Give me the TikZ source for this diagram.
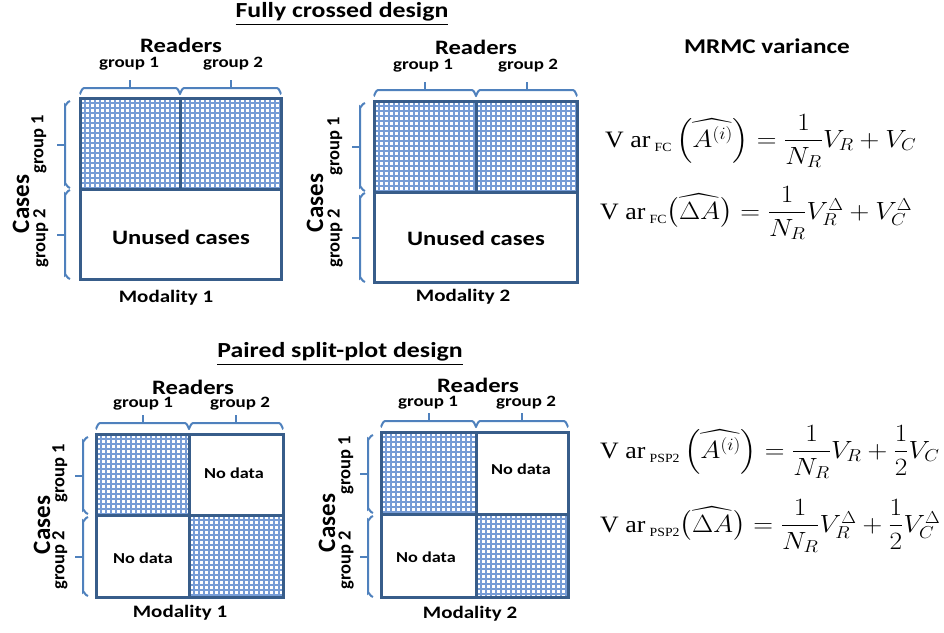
\documentclass[tikz,border=0pt]{standalone}
\usepackage{amsmath}
\usepackage{graphicx}
\usepackage{fontspec}
\setmainfont{Carlito}
\newfontfamily\timesf{Liberation Serif}
\usetikzlibrary{fit}

\definecolor{boxedge}{RGB}{56,93,138}
\definecolor{bracecol}{RGB}{79,129,189}
\definecolor{meshcol}{RGB}{118,156,214}

\newcommand{\fsz}[1]{\fontsize{#1}{#1}\selectfont}
% horizontal text is set a little wider than its natural shape
\newcommand{\wide}[1]{\scalebox{1.2}[1]{#1}}
\newcommand{\mwide}[1]{\scalebox{1.1}[1]{#1}}
% "Var" operator with a small subscript, set in a Times-like face
\newcommand{\varop}[1]{\text{\timesf V ar\,\raisebox{-0.45ex}{\fsz{12.5}#1}}}

\tikzset{
  cell/.style={rectangle, inner sep=0pt, outer sep=0pt},
  mesh/.style={path picture={
      \foreach \k in {0,5,...,215} {
        \draw[meshcol, line width=1.15pt]
          ([xshift=\k pt]path picture bounding box.north west) --
          ([xshift=\k pt]path picture bounding box.south west);
        \draw[meshcol, line width=1.15pt]
          ([yshift=-\k pt]path picture bounding box.north west) --
          ([yshift=-\k pt]path picture bounding box.north east);
      }}},
  edge/.style={draw=boxedge, line width=3pt},
  bracepen/.style={draw=bracecol, line width=2pt},
  title/.style={font=\bfseries\fsz{21.5}, inner sep=0pt},
  readers/.style={font=\bfseries\fsz{20.5}, inner sep=0pt},
  grp/.style={font=\bfseries\fsz{15.8}, inner sep=0pt},
  vgrp/.style={font=\bfseries\fsz{18.5}, inner sep=0pt, rotate=90},
  cases/.style={font=\bfseries\fsz{25}, inner sep=0pt, rotate=90},
  inner/.style={font=\bfseries\fsz{20.5}, inner sep=0pt},
  nodata/.style={font=\bfseries\fsz{15.2}, inner sep=0pt},
  modal/.style={font=\bfseries\fsz{17.5}, inner sep=0pt},
  eqn/.style={font=\fsz{23.5}, inner sep=0pt, anchor=west},
}

% horizontal brace over a column: x1, x2, y of the bar
\newcommand{\topbrace}[3]{%
  \draw[bracepen] (#1,#3+5) to[out=-90,in=180] (#1+4,#3) -- (#2-4,#3)
        to[out=0,in=-90] (#2,#3+5);
  \draw[bracepen] ({(#1+#2)/2},#3) -- ({(#1+#2)/2},#3-8);}
% vertical brace beside a row: y1, y2, x of the bar
\newcommand{\sidebrace}[3]{%
  \draw[bracepen] (#3+5,#1) to[out=180,in=-90] (#3,#1+4) -- (#3,#2-4)
        to[out=90,in=180] (#3+5,#2);
  \draw[bracepen] (#3,{(#1+#2)/2}) -- (#3-8,{(#1+#2)/2});}

\begin{document}
\begin{tikzpicture}[x=1pt, y=-1pt]
\useasboundingbox (0,0) rectangle (944,632);
\fill[white] (0,0) rectangle (944,632);

% ---------------- Fully crossed design ----------------
\node[title] (t1) at (342,14) {\wide{\underline{Fully crossed design}}};

% Modality 1
\node[cell, mesh, fit={(80,98) (180,189)}] (a11) {};
\node[cell, mesh, fit={(180,98) (281,189)}] (a12) {};
\node[cell, fit={(80,189) (281,279)}] (a2) {};
\draw[edge] (a11.north west) rectangle (a11.south east);
\draw[edge] (a12.north west) rectangle (a12.south east);
\draw[edge] (a2.north west) rectangle (a2.south east);
\node[inner] (au) at (181,237) {\wide{Unused cases}};
\topbrace{80}{180}{88}
\topbrace{180}{281}{88}
\sidebrace{101}{188}{65}
\sidebrace{190}{279}{65}
\node[readers] (ar) at (181,45) {\wide{Readers}};
\node[grp] (ag1) at (129,64) {\wide{group 1}};
\node[grp] (ag2) at (233,64) {\wide{group 2}};
\node[cases] (ac) at (21,204) {Cases};
\node[vgrp] (ac1) at (39,144) {group 1};
\node[vgrp] (ac2) at (41,238) {group 2};
\node[modal] (am) at (166,298) {\wide{Modality 1}};

% Modality 2
\node[cell, mesh, fit={(374,101) (476,192)}] (b11) {};
\node[cell, mesh, fit={(476,101) (577,192)}] (b12) {};
\node[cell, fit={(374,192) (577,282)}] (b2) {};
\draw[edge] (b11.north west) rectangle (b11.south east);
\draw[edge] (b12.north west) rectangle (b12.south east);
\draw[edge] (b2.north west) rectangle (b2.south east);
\node[inner] (bu) at (476,238) {\wide{Unused cases}};
\topbrace{374}{476}{90}
\topbrace{476}{577}{90}
\sidebrace{103}{191}{360}
\sidebrace{193}{282}{360}
\node[readers] (br) at (476,47) {\wide{Readers}};
\node[grp] (bg1) at (423,66) {\wide{group 1}};
\node[grp] (bg2) at (528,66) {\wide{group 2}};
\node[cases] (bc) at (315,203) {Cases};
\node[vgrp] (bc1) at (335,146) {group 1};
\node[vgrp] (bc2) at (335,238) {group 2};
\node[modal] (bm) at (463,297) {\wide{Modality 2}};

% ---------------- Paired split-plot design ----------------
\node[title] (t2) at (340,354) {\wide{\underline{Paired split-plot design}}};

% Modality 1
\node[cell, mesh, fit={(96,434) (189,515)}] (c11) {};
\node[cell, fit={(189,434) (283,515)}] (c12) {};
\node[cell, fit={(96,515) (189,597)}] (c21) {};
\node[cell, mesh, fit={(189,515) (283,597)}] (c22) {};
\foreach \n in {c11,c12,c21,c22}
  \draw[edge] (\n.north west) rectangle (\n.south east);
\node[nodata] (cn1) at (234,473) {\wide{No data}};
\node[nodata] (cn2) at (143,558) {\wide{No data}};
\topbrace{96}{189}{423}
\topbrace{189}{283}{423}
\sidebrace{437}{514}{83}
\sidebrace{517}{596}{83}
\node[readers] (cr) at (193,387) {\wide{Readers}};
\node[grp] (cg1) at (143,404) {\wide{group 1}};
\node[grp] (cg2) at (240,404) {\wide{group 2}};
\node[cases] (cc) at (42,525) {Cases};
\node[vgrp] (cc1) at (60,473) {group 1};
\node[vgrp] (cc2) at (60,560) {group 2};
\node[modal] (cm) at (180,613) {\wide{Modality 1}};

% Modality 2
\node[cell, mesh, fit={(381,432) (476,514)}] (d11) {};
\node[cell, fit={(476,432) (568,514)}] (d12) {};
\node[cell, fit={(381,514) (476,597)}] (d21) {};
\node[cell, mesh, fit={(476,514) (568,597)}] (d22) {};
\foreach \n in {d11,d12,d21,d22}
  \draw[edge] (\n.north west) rectangle (\n.south east);
\node[nodata] (dn1) at (521,469) {\wide{No data}};
\node[nodata] (dn2) at (426,557) {\wide{No data}};
\topbrace{381}{476}{421}
\topbrace{476}{568}{421}
\sidebrace{435}{513}{368}
\sidebrace{516}{597}{368}
\node[readers] (dr) at (478,385) {\wide{Readers}};
\node[grp] (dg1) at (428,403) {\wide{group 1}};
\node[grp] (dg2) at (526,403) {\wide{group 2}};
\node[cases] (dc) at (327,523) {Cases};
\node[vgrp] (dc1) at (346,465) {group 1};
\node[vgrp] (dc2) at (346,560) {group 2};
\node[modal] (dm) at (470,614) {\wide{Modality 2}};

% ---------------- variance formulas ----------------
\node[font=\bfseries\fsz{21}, inner sep=0pt] (mv) at (767,46) {\wide{MRMC variance}};
\node[eqn] (e1) at (605,141)
  {\mwide{$\varop{FC}\left(\widehat{A^{(i)}}\right) = \dfrac{1}{N_R}V_R + V_C$}};
\node[eqn] (e2) at (600,213)
  {\mwide{$\varop{FC}\bigl(\widehat{\Delta A}\bigr) = \dfrac{1}{N_R}V_R^{\Delta} + V_C^{\Delta}$}};
\node[eqn] (e3) at (600,452)
  {\mwide{$\varop{PSP2}\left(\widehat{A^{(i)}}\right) = \dfrac{1}{N_R}V_R + \dfrac{1}{2}V_C$}};
\node[eqn] (e4) at (600,526)
  {\mwide{$\varop{PSP2}\bigl(\widehat{\Delta A}\bigr) = \dfrac{1}{N_R}V_R^{\Delta} + \dfrac{1}{2}V_C^{\Delta}$}};
\end{tikzpicture}
\end{document}
